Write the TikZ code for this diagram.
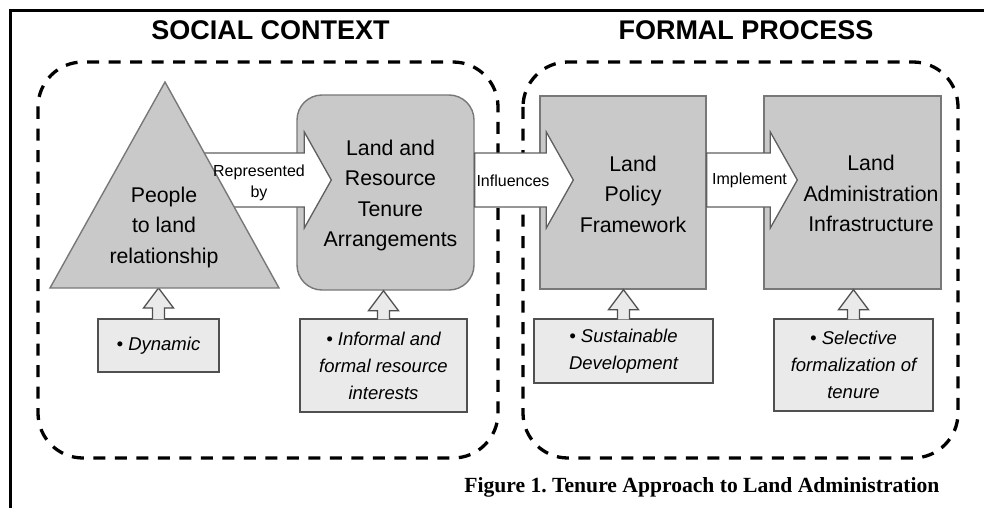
\documentclass[tikz,border=0pt]{standalone}
\usepackage{fontspec}
\setmainfont{Liberation Sans}
\newfontfamily\captionfont{Liberation Serif}
\usetikzlibrary{calc}

\definecolor{boxgray}{RGB}{201,201,201}
\definecolor{notegray}{RGB}{234,234,234}
\definecolor{boxedge}{RGB}{120,120,120}
\definecolor{noteedge}{RGB}{80,80,80}
\definecolor{arrowedge}{RGB}{95,95,95}

\pgfdeclarelayer{front}
\pgfsetlayers{main,front}

\tikzset{
  mainbox/.style={draw=boxedge, line width=1.4pt, fill=boxgray, inner sep=0pt},
  notebox/.style={draw=noteedge, line width=1.3pt, fill=notegray, inner sep=0pt,
    align=center, font=\fontsize{18.5}{27}\selectfont\itshape},
  boxtext/.style={align=center, font=\fontsize{21.3}{30.5}\selectfont},
  flowtext/.style={align=center, font=\fontsize{16}{21}\selectfont},
  fatarrow/.style={draw=arrowedge, line width=1.3pt, fill=white},
  thinarrow/.style={draw=noteedge, line width=1.3pt, fill=notegray},
  dashbox/.style={line width=3.3pt, dash pattern=on 12pt off 9.5pt, rounded corners=45pt},
  title/.style={anchor=base, font=\fontsize{27}{27}\selectfont\bfseries},
}

% wide white arrow from #1 (tail) to #2 (tip), both on the same line
\newcommand{\fatblock}[2]{%
  \draw[fatarrow] ($(#1)+(0,-27)$) -- ($(#2)+(-27,-27)$) -- ($(#2)+(-27,-48)$) -- (#2)
    -- ($(#2)+(-27,48)$) -- ($(#2)+(-27,27)$) -- ($(#1)+(0,27)$) -- cycle;}

% small upward arrow from the top of box #1 to the line of #2
\newcommand{\upblock}[2]{%
  \draw[thinarrow] ($(#1.north)+(-6,1)$) -- ($(#1.north |- #2)+(-6,20)$)
    -- ($(#1.north |- #2)+(-15,20)$) -- (#1.north |- #2) -- ($(#1.north |- #2)+(15,20)$)
    -- ($(#1.north |- #2)+(6,20)$) -- ($(#1.north)+(6,1)$);}

\begin{document}
\begin{tikzpicture}[x=1pt,y=-1pt]
  \useasboundingbox (0,0) rectangle (984,508);

  % page frame
  \draw[line width=3pt] (10.5,508) -- (10.5,10.5) -- (984,10.5);

  \node[title] (socialtitle) at (270.5,40) {SOCIAL CONTEXT};
  \node[title] (formaltitle) at (746,40) {FORMAL PROCESS};

  % the two groups
  \draw[dashbox] (38,62) rectangle (498,458);
  \draw[dashbox] (523,62) rectangle (958,458);

  % triangle sits over the tail of the first arrow
  \begin{pgfonlayer}{front}
    \draw[mainbox] (50,288) -- (165,82) -- (279,288) -- cycle;
    \node[boxtext] (people) at (164,227) {People\\to land\\relationship};
    \node[flowtext] (replabel) at (259,182.5) {Represented\\by};
  \end{pgfonlayer}
  \coordinate (tribase) at (165,288);

  \node[mainbox, rounded corners=25pt, minimum width=177, minimum height=195] (tenure) at (385.5,192.5) {};
  \node[boxtext] (tenuretext) at (390.5,195.5) {Land and\\Resource\\Tenure\\Arrangements};

  \node[mainbox, minimum width=166, minimum height=193] (policy) at (623,192.5) {};
  \node[boxtext] (policytext) at (633,194) {Land\\Policy\\Framework};

  \node[mainbox, minimum width=177, minimum height=193] (admin) at (852.5,192.5) {};
  \node[boxtext] (admintext) at (871,193.5) {Land\\Administration\\Infrastructure};

  % notes underneath
  \node[notebox, minimum width=121, minimum height=53] (dynamic) at (158.5,345.5) {• Dynamic};
  \node[notebox, minimum width=167, minimum height=93] (informal) at (383.5,365.5) {• Informal and\\formal resource\\interests};
  \node[notebox, minimum width=179, minimum height=64] (sustain) at (623.5,351) {• Sustainable\\Development};
  \node[notebox, minimum width=159, minimum height=92] (selective) at (853.5,365) {• Selective\\formalization of\\tenure};

  \upblock{dynamic}{tribase}
  \upblock{informal}{tenure.south}
  \upblock{sustain}{policy.south}
  \upblock{selective}{admin.south}

  % flow from left to right
  \coordinate (flow) at (0,180);
  \coordinate (tip1) at ($(tenure.west |- flow)+(35,0)$);
  \coordinate (tip2) at ($(policy.west |- flow)+(34,0)$);
  \coordinate (tip3) at ($(admin.west |- flow)+(34,0)$);
  \fatblock{tribase |- flow}{tip1}
  \fatblock{tenure.east |- flow}{tip2}
  \fatblock{policy.east |- flow}{tip3}
  \node[flowtext] (inflabel) at (513,181) {Influences};
  \node[flowtext] (implabel) at (749.5,180) {Implement};

  \node[anchor=base east, font={\captionfont\fontsize{21.6}{26}\selectfont\bfseries}] (caption) at (943,492)
    {Figure 1.\ Tenure Approach to Land Administration};
\end{tikzpicture}
\end{document}
